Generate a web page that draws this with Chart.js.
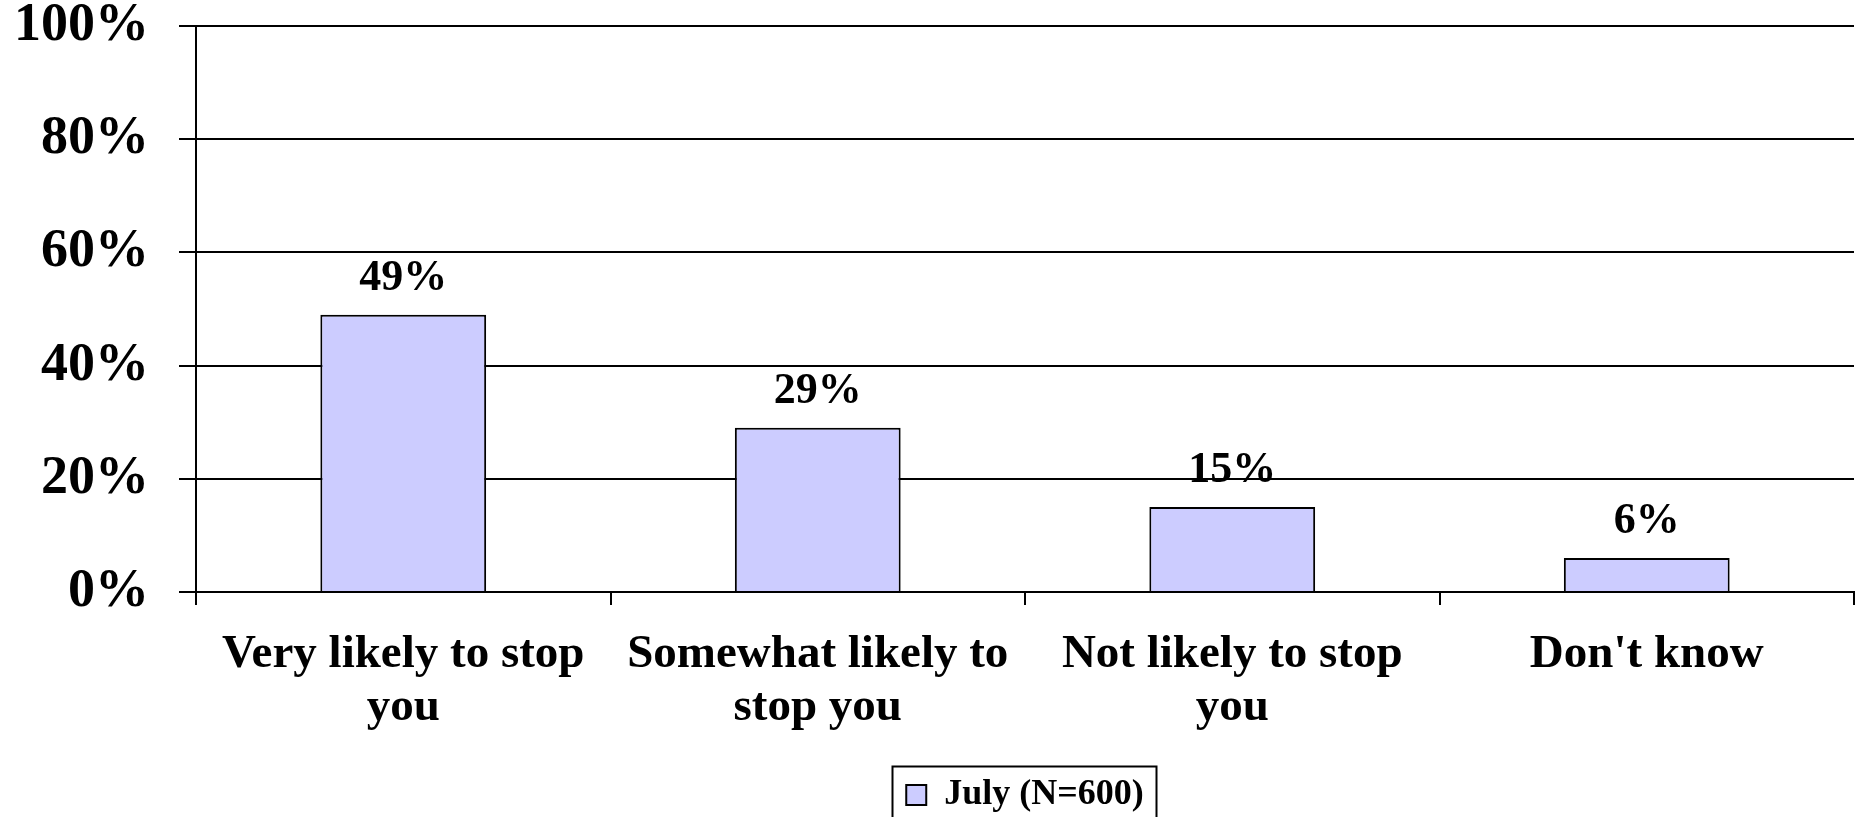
<!DOCTYPE html>
<html>
<head>
<meta charset="utf-8">
<script src="https://cdn.jsdelivr.net/npm/chart.js@4"></script>
<style>
  html, body { margin: 0; padding: 0; background: #fff; }
  #wrap { width: 1860px; height: 817px; position: relative; }
</style>
</head>
<body>
<div id="wrap"><canvas id="c" width="1860" height="817"></canvas></div>
<script>
const categories = [
  ["Very likely to stop", "you"],
  ["Somewhat likely to", "stop you"],
  ["Not likely to stop", "you"],
  "Don't know"
];
const julyValues = [49, 29, 15, 6];
const seriesLabel = "July (N=600)";
const yTicks = [0, 20, 40, 60, 80, 100];

const FONT = "'Liberation Serif', 'Times New Roman', serif";
const CANVAS_H = 817;
const PLOT_TOP = 26;
const PLOT_BOTTOM = 592;
const LEGEND_H = 50;

const valueLabels = {
  id: 'valueLabels',
  afterDatasetsDraw(chart) {
    const ctx = chart.ctx;
    const meta = chart.getDatasetMeta(0);
    ctx.save();
    ctx.font = "bold 44px " + FONT;
    ctx.fillStyle = '#000';
    ctx.textAlign = 'center';
    ctx.textBaseline = 'alphabetic';
    meta.data.forEach((bar, i) => {
      ctx.fillText(julyValues[i] + '%', bar.x, bar.y - 25);
    });
    ctx.restore();
  }
};

const legendFrame = {
  id: 'legendFrame',
  afterDraw(chart) {
    const lg = chart.legend;
    if (!lg || !lg.legendHitBoxes || !lg.legendHitBoxes.length) return;
    const hb = lg.legendHitBoxes[0];
    const ctx = chart.ctx;
    const cy = hb.top + hb.height / 2;
    const left = Math.round(hb.left - 14) + 0.5;
    const right = Math.round(hb.left + hb.width + 12) + 0.5;
    const top = Math.round(cy - 29) + 0.5;
    ctx.save();
    ctx.strokeStyle = '#000';
    ctx.lineWidth = 2;
    ctx.beginPath();
    ctx.moveTo(left, CANVAS_H + 10);
    ctx.lineTo(left, top);
    ctx.lineTo(right, top);
    ctx.lineTo(right, CANVAS_H + 10);
    ctx.stroke();
    ctx.restore();
  }
};

new Chart(document.getElementById('c'), {
  type: 'bar',
  data: {
    labels: categories,
    datasets: [{
      label: seriesLabel,
      data: julyValues,
      backgroundColor: '#CCCCFF',
      borderColor: '#000',
      borderWidth: 2,
      categoryPercentage: 1.0,
      barPercentage: 0.4
    }]
  },
  options: {
    responsive: false,
    animation: false,
    devicePixelRatio: 1,
    layout: { padding: { left: 0, right: 6, top: 0, bottom: 0 } },
    plugins: {
      tooltip: { enabled: false },
      legend: {
        display: true,
        position: 'bottom',
        fullSize: false,
        maxHeight: LEGEND_H,
        labels: {
          font: { family: FONT, size: 36, weight: 'bold' },
          color: '#000',
          boxWidth: 20,
          boxHeight: 20,
          padding: 10
        }
      }
    },
    scales: {
      x: {
        offset: true,
        grid: {
          offset: true,
          drawOnChartArea: false,
          drawTicks: true,
          tickLength: 13,
          color: '#000',
          lineWidth: 2
        },
        border: { display: true, color: '#000', width: 2 },
        ticks: {
          color: '#000',
          padding: 23,
          maxRotation: 0,
          autoSkip: false,
          font: { family: FONT, size: 47, weight: 'bold', lineHeight: 1.128 }
        },
        afterFit(scale) {
          scale.height = CANVAS_H - PLOT_BOTTOM - LEGEND_H;
        }
      },
      y: {
        min: 0,
        max: 100,
        grid: {
          color: '#000',
          lineWidth: 2,
          drawTicks: true,
          tickLength: 17
        },
        border: { display: true, color: '#000', width: 2 },
        ticks: {
          stepSize: 20,
          color: '#000',
          padding: 30,
          font: { family: FONT, size: 54, weight: 'bold', lineHeight: 0.963 },
          callback: (v) => yTicks.includes(v) ? v + '%' : ''
        },
        afterFit(scale) {
          scale.width = 196;
          scale.paddingTop = PLOT_TOP;
          scale.paddingBottom = 0;
        }
      }
    }
  },
  plugins: [valueLabels, legendFrame]
});
</script>
</body>
</html>
